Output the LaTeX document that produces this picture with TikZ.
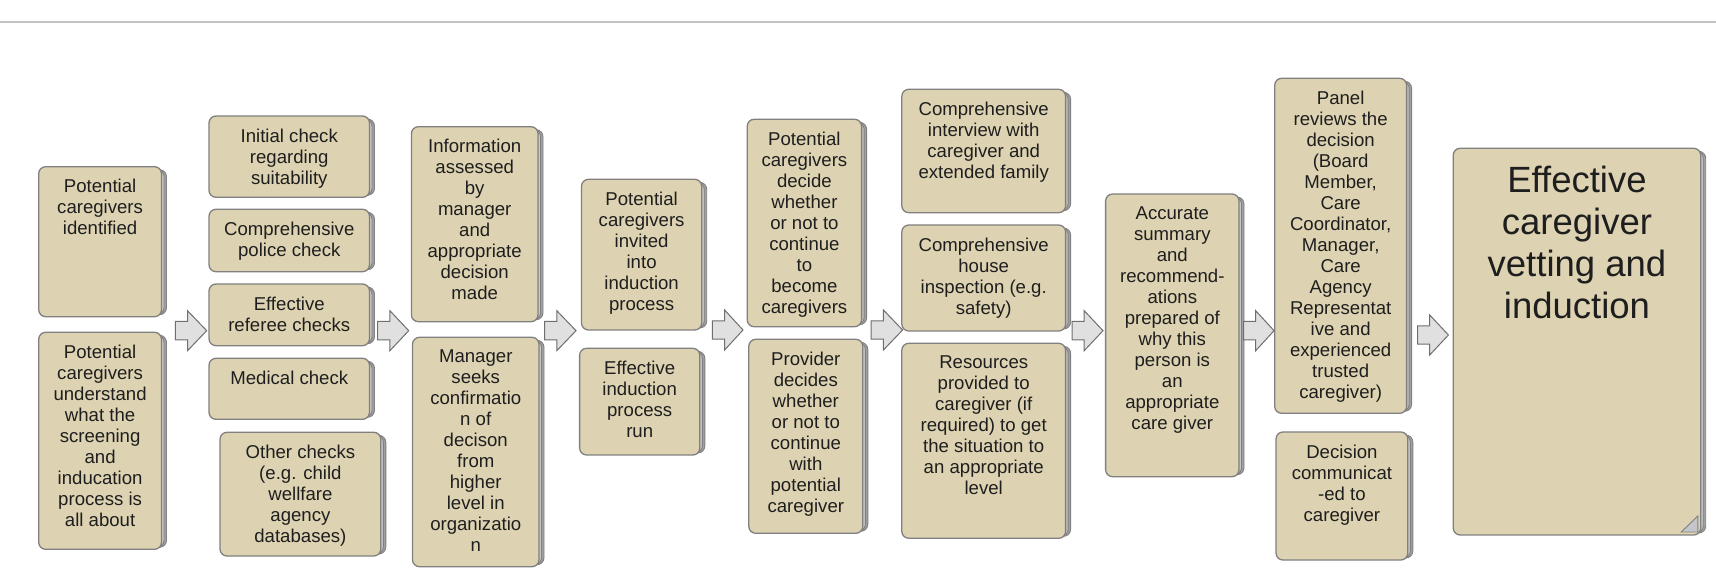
\documentclass[tikz,border=0pt]{standalone}
\usepackage{fontspec}
\setmainfont{Liberation Sans}
\definecolor{facec}{RGB}{221,211,178}
\definecolor{edgec}{RGB}{128,128,128}
\definecolor{shadc}{RGB}{160,160,160}
\definecolor{shadm}{RGB}{200,200,200}
\definecolor{arrc}{RGB}{224,224,224}
\definecolor{arredge}{RGB}{110,110,110}
\definecolor{txtc}{RGB}{30,30,30}
\definecolor{rulec}{RGB}{195,195,195}
\definecolor{foldc}{RGB}{196,198,204}
\tikzset{
  facebox/.style={draw=edgec, fill=facec, line width=0.65pt, rounded corners=3.5pt, inner sep=0pt, outer sep=0pt},
  shadowbox/.style={draw=edgec, fill=shadc, line width=0.45pt, rounded corners=3.5pt, inner sep=0pt, outer sep=0pt},
  midbox/.style={draw=edgec, fill=shadm, line width=0.45pt, rounded corners=3.5pt, inner sep=0pt, outer sep=0pt},
  txt/.style={align=center, inner sep=0pt, anchor=north, text=txtc, font=\fontsize{9.3}{10.5}\selectfont},
  bigtxt/.style={align=center, inner sep=0pt, anchor=north, text=txtc, font=\fontsize{18.25}{21.1}\selectfont},
  blockarrow/.style={draw=arredge, fill=arrc, line width=0.5pt, line join=miter},
}
\newcommand\cgframe[5]{%
  \pgfmathsetmacro\cgbw{(#4-#2)*0.5}%
  \pgfmathsetmacro\cgbh{(#5-#3)*0.5}%
  \pgfmathsetmacro\cgsh{(#5-#3-5)*0.5}%
  \node[shadowbox, minimum width=\cgbw pt, minimum height=\cgsh pt] (#1s) at ({(#2+#4)/2+5},{(#3+#5)/2+0.5}) {};
  \node[midbox, minimum width=\cgbw pt, minimum height=\cgsh pt] (#1m) at ({(#2+#4)/2+2.5},{(#3+#5)/2+0.5}) {};
  \node[facebox, minimum width=\cgbw pt, minimum height=\cgbh pt] (#1) at ({(#2+#4)/2},{(#3+#5)/2}) {};
}
\newcommand\cgbox[6]{%
  \cgframe{#1}{#2}{#3}{#4}{#5}%
  \node[txt] (#1t) at ({(#2+#4)/2},{#3+12.3}) {#6};
}
\newcommand\cgarrow[4]{%
  \coordinate (#1) at (#2,#4);
  \draw[blockarrow] (#2,#4-9.2) -- (#2+12.2,#4-9.2) -- (#2+12.2,#4-20) -- (#3,#4) -- (#2+12.2,#4+20) -- (#2+12.2,#4+9.2) -- (#2,#4+9.2) -- cycle;
}
\begin{document}
\begin{tikzpicture}[x=0.5pt,y=-0.5pt]
\useasboundingbox (0,0) rectangle (1716,581);
\coordinate (ruleL) at (0,21.7);
\coordinate (ruleR) at (1716,21.7);
\draw[rulec, line width=1pt] (ruleL) -- (ruleR);

\cgbox{A}{38.7}{166.7}{161.5}{316.7}{Potential\\caregivers\\identified}
\cgbox{B}{38.7}{332.3}{161.5}{549.3}{Potential\\caregivers\\understand\\what the\\screening\\and\\inducation\\process is\\all about}

\cgbox{Ca}{209}{116}{369.5}{197.3}{Initial check\\regarding\\suitability}
\cgbox{Cb}{209}{209.3}{369.5}{271.7}{Comprehensive\\police check}
\cgbox{Cc}{209}{284}{369.5}{345.7}{Effective\\referee checks}
\cgbox{Cd}{209}{358.3}{369.5}{419.3}{Medical check}
\cgbox{Ce}{220}{432.3}{380.8}{556}{Other checks\\(e.g. child\\wellfare\\agency\\databases)}

\cgbox{Da}{411.4}{126.7}{538}{321.7}{Information\\assessed\\by\\manager\\and\\appropriate\\decision\\made}
\cgbox{Db}{412.5}{337.3}{539}{566.7}{Manager\\seeks\\confirmatio\\n of\\decison\\from\\higher\\level in\\organizatio\\n}

\cgbox{Ea}{581.5}{179.3}{701.7}{330}{Potential\\caregivers\\invited\\into\\induction\\process}
\cgbox{Eb}{579.6}{348.3}{699.8}{455}{Effective\\induction\\process\\run}

\cgbox{Fa}{747.2}{119.3}{861.6}{326.7}{Potential\\caregivers\\decide\\whether\\or not to\\continue\\to\\become\\caregivers}
\cgbox{Fb}{748.8}{339.3}{862.8}{533.3}{Provider\\decides\\whether\\or not to\\continue\\with\\potential\\caregiver}

\cgbox{Ga}{901.8}{89.3}{1065.6}{212.7}{Comprehensive\\interview with\\caregiver and\\extended family}
\cgbox{Gb}{901.8}{225}{1065.6}{331}{Comprehensive\\house\\inspection (e.g.\\safety)}
\cgbox{Gc}{901.8}{343.3}{1065.6}{538.3}{Resources\\provided to\\caregiver (if\\required) to get\\the situation to\\an appropriate\\level}

\cgbox{H}{1105.6}{194}{1239}{476.7}{Accurate\\summary\\and\\recommend-\\ations\\prepared of\\why this\\person is\\an\\appropriate\\care giver}

\cgbox{Ia}{1274.7}{78.3}{1406.6}{413.3}{Panel\\reviews the\\decision\\(Board\\Member,\\Care\\Coordinator,\\Manager,\\Care\\Agency\\Representat\\ive and\\experienced\\trusted\\caregiver)}
\cgbox{Ib}{1276}{432}{1407.8}{560}{Decision\\communicat\\-ed to\\caregiver}

% final box
\cgframe{J}{1453.2}{148.3}{1700.7}{535}
\coordinate (fold1) at (1681.2,532);
\coordinate (fold2) at (1697.8,516);
\coordinate (fold3) at (1697.8,532);
\draw[draw=edgec, fill=foldc, line width=0.45pt] (fold1) -- (fold2) -- (fold3) -- cycle;
\node[bigtxt] (Jt) at ({(1453.2+1700.7)/2},165.5) {Effective\\caregiver\\vetting and\\induction};

\cgarrow{a1}{175.3}{206.7}{330.7}
\cgarrow{a2}{377.7}{408.7}{330.7}
\cgarrow{a3}{544.6}{576}{330.7}
\cgarrow{a4}{712.4}{743}{330}
\cgarrow{a5}{871.2}{902.6}{330}
\cgarrow{a6}{1072}{1103}{330.7}
\cgarrow{a7}{1243.5}{1274}{330.7}
\cgarrow{a8}{1417.5}{1448.4}{335}
\end{tikzpicture}
\end{document}
